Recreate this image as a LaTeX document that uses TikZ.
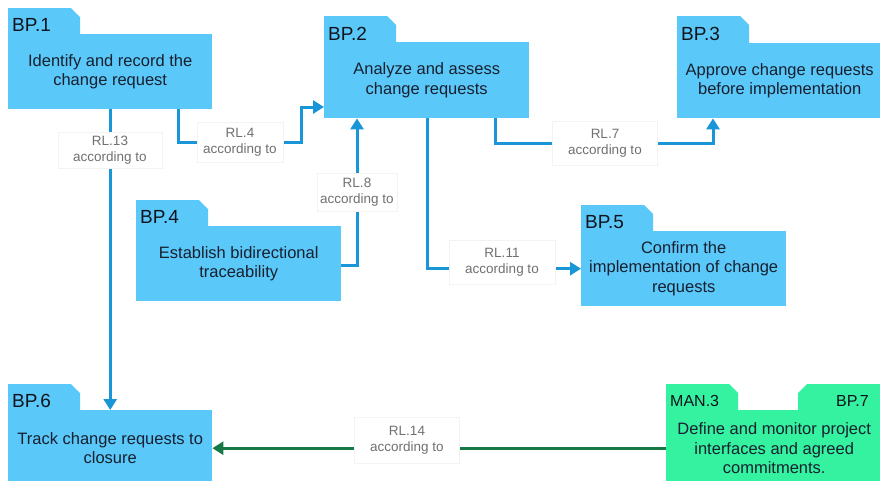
\documentclass[tikz,border=0pt]{standalone}
\usepackage{fontspec}
\setmainfont{Liberation Sans}
\usetikzlibrary{arrows.meta,calc}

\definecolor{boxblue}{RGB}{91,200,250}
\definecolor{boxgreen}{RGB}{52,242,160}
\definecolor{connblue}{RGB}{24,150,216}
\definecolor{conngreen}{RGB}{22,120,68}
\definecolor{textdark}{RGB}{22,32,46}
\definecolor{titledark}{RGB}{16,20,28}
\definecolor{labelgray}{RGB}{112,112,112}
\definecolor{framegray}{RGB}{243,243,243}

\pgfdeclarelayer{paper}
\pgfdeclarelayer{wires}
\pgfsetlayers{paper,wires,main}

% folder tab: x, top, body top, colour
\newcommand\foldertab[4]{%
  \fill[#4] ({#1},{#3+1}) -- ({#1},{#2}) -- ({#1+63},{#2}) -- ({#1+72},{#2+9}) -- ({#1+72},{#3+1}) -- cycle;}

\begin{document}
\begin{tikzpicture}[x=1pt,y=-1pt,
  bpbody/.style={fill=boxblue, inner sep=0pt, anchor=north west, align=center,
    text=textdark, font=\fontsize{16.5}{19.5}\selectfont},
  bptitle/.style={anchor=base west, inner sep=0pt, text=titledark,
    font=\fontsize{19}{19}\selectfont},
  rellabel/.style={fill=white, draw=framegray, line width=0.5pt, inner sep=0pt,
    minimum width=104pt, minimum height=40pt, align=center, text=labelgray,
    font=\fontsize{13.5}{16}\selectfont},
  wire/.style={draw=connblue, line width=3pt, line join=miter},
  gwire/.style={draw=conngreen, line width=3pt},
  tip/.style={-{Triangle[length=11pt,width=13pt]}},
]
\useasboundingbox (0,0) rectangle (880,480);
\begin{pgfonlayer}{paper}
\fill[white] (0,0) rectangle (880,480);
\end{pgfonlayer}

% process boxes
\foldertab{8}{8}{34}{boxblue}
\node[bpbody, minimum width=204pt, minimum height=75pt] (bp1) at (8,34)
  {Identify and record the\\change request};
\node[bptitle] (bp1t) at (12,31) {BP.1};

\foldertab{324}{16}{42}{boxblue}
\node[bpbody, minimum width=205pt, minimum height=76pt] (bp2) at (324,42)
  {Analyze and assess\\change requests};
\node[bptitle] (bp2t) at (328,40) {BP.2};

\foldertab{677}{16}{43}{boxblue}
\node[bpbody, minimum width=205pt, minimum height=75pt] (bp3) at (677,43)
  {Approve change requests\\before implementation};
\node[bptitle] (bp3t) at (681,40) {BP.3};

\foldertab{136}{200}{226}{boxblue}
\node[bpbody, minimum width=205pt, minimum height=75pt] (bp4) at (136,226)
  {Establish bidirectional\\traceability};
\node[bptitle] (bp4t) at (140,223) {BP.4};

\foldertab{581}{205}{231}{boxblue}
\node[bpbody, minimum width=205pt, minimum height=75pt] (bp5) at (581,231)
  {Confirm the\\implementation of change\\requests};
\node[bptitle] (bp5t) at (585,228) {BP.5};

\foldertab{8}{384}{410}{boxblue}
\node[bpbody, minimum width=204pt, minimum height=76pt] (bp6) at (8,410)
  {Track change requests to\\closure};
\node[bptitle] (bp6t) at (12,407) {BP.6};

% external practice with two tabs
\foldertab{666}{384}{410}{boxgreen}
\fill[boxgreen] (798,411) -- (798,393) -- (807,384) -- (882,384) -- (882,411) -- cycle;
\node[bpbody, fill=boxgreen, minimum width=216pt, minimum height=76pt] (bp7) at (666,410)
  {Define and monitor project\\interfaces and agreed\\commitments.};
\node[bptitle, font=\fontsize{16}{16}\selectfont] (man3) at (670,406) {MAN.3};
\node[bptitle, anchor=base east, font=\fontsize{16}{16}\selectfont] (bp7t) at (869,406) {BP.7};

% relation labels
\node[rellabel, minimum height=36pt] (l13) at (110,150) {RL.13\\according to};
\node[rellabel, minimum width=86pt] (l4) at (240,142) {RL.4\\according to};
\node[rellabel, minimum width=80pt, minimum height=38pt] (l8) at (357,192) {RL.8\\according to};
\node[rellabel, minimum width=105pt, minimum height=44pt] (l7) at (605,143) {RL.7\\according to};
\node[rellabel, minimum width=106pt, minimum height=44pt] (l11) at (502,262) {RL.11\\according to};
\node[rellabel, minimum width=105pt, minimum height=46pt] (l14) at (407,440) {RL.14\\according to};

% connectors, routed beneath the labels
\begin{pgfonlayer}{wires}
\draw[wire, tip] (bp1.south) -- (bp6.north);
\draw[wire, tip] ($(bp1.south west)+(170,0)$) |- ($(l4.east)+(18,0)$)
  |- ($(bp2.north west)+(0,65)$);
\draw[wire, tip] ($(bp4.north east)+(0,39)$) -| ($(bp2.south west)+(33,0)$);
\draw[wire, tip] ($(bp2.south west)+(171,0)$) |- (l7.center)
  -| ($(bp3.south west)+(36,0)$);
\draw[wire, tip] ($(bp2.south west)+(103,0)$) |- (bp5.west);
\draw[gwire, tip] (bp7.west) -- (bp6.east);
\end{pgfonlayer}
\end{tikzpicture}
\end{document}
